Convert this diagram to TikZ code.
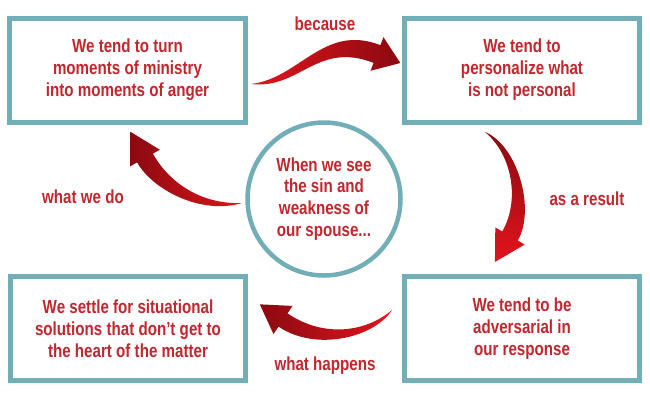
\documentclass[tikz,border=0pt]{standalone}
\usepackage{fontspec}
\usetikzlibrary{calc}
\newfontfamily\cfont[FakeStretch=0.8]{Liberation Sans}
\definecolor{boxteal}{HTML}{72AEB8}
\definecolor{txtred}{HTML}{C4262E}
\definecolor{arrdark}{HTML}{8A0A10}
\definecolor{arrbright}{HTML}{E3141C}
\newcommand\curvarrow[8]{%
  \coordinate (q0) at #1; \coordinate (q1) at #2;
  \coordinate (q2) at #3; \coordinate (q3) at #4;
  \coordinate (a1) at ($(q1)!0.6*#5!-90:(q0)$);
  \coordinate (b1) at ($(q1)!0.6*#5!90:(q0)$);
  \coordinate (a2) at ($(q2)!#5!90:(q3)$);
  \coordinate (b2) at ($(q2)!#5!-90:(q3)$);
  \coordinate (n3) at ($(q3)!#5!-90:(q2)$);
  \coordinate (m3) at ($(q3)!#5!90:(q2)$);
  \coordinate (hn) at ($(q3)!#6!-90:(q2)$);
  \coordinate (hm) at ($(q3)!#6!90:(q2)$);
  \coordinate (tip) at ($(q3)!#7!180:(q2)$);
  \shade[#8] (q0) .. controls (a1) and (a2) .. (n3) -- (hn) -- (tip) -- (hm) -- (m3)
     .. controls (b2) and (b1) .. (q0) -- cycle;
}
\tikzset{
  box/.style={draw=boxteal, line width=5bp, fill=white, minimum width=235bp,
    minimum height=104bp, inner sep=0pt, align=center, text=txtred,
    font={\cfont\bfseries\fontsize{19}{22}\selectfont}},
  hub/.style={box, circle, minimum width=153bp, minimum height=153bp, line width=4.5bp},
  lbl/.style={text=txtred, inner sep=0pt, font={\cfont\bfseries\fontsize{19}{22}\selectfont}}
}
\begin{document}
\begin{tikzpicture}[x=1bp,y=-1bp]
\useasboundingbox (0,0) rectangle (650,400);
\node[box] (tl) at (127.5,70) {We tend to turn\\moments of ministry\\into moments of anger};
\node[box] (tr) at (522,70) {We tend to\\personalize what\\is not personal};
\node[box] (br) at (522,328.5) {We tend to be\\adversarial in\\our response};
\node[box] (bl) at (128,328.5) {We settle for situational\\solutions that don’t get to\\the heart of the matter};
\node[hub] (hub) at (324,199) {When we see\\the sin and\\weakness of\\our spouse...};
\node[lbl] (l1) at (325,24) {because};
\node[lbl] (l2) at (587,199) {as a result};
\node[lbl] (l3) at (325,366) {what happens};
\node[lbl] (l4) at (83,197) {what we do};
% because
\curvarrow{(251,84)}{(300,84)}{(320,32)}{(377,54)}{9.5bp}{18bp}{25bp}{left color=arrbright, right color=arrdark}
% as a result
\curvarrow{(485,132)}{(515,150)}{(528,205)}{(510,236)}{9bp}{17bp}{30bp}{top color=arrdark, bottom color=arrbright}
% what happens
\curvarrow{(392,310)}{(370,335)}{(320,345)}{(283,320)}{8bp}{17bp}{28bp}{left color=arrdark, right color=arrbright}
% what we do
\curvarrow{(242,203)}{(200,210)}{(160,185)}{(145,158)}{9bp}{17bp}{30bp}{left color=arrdark, right color=arrbright}
\end{tikzpicture}
\end{document}
